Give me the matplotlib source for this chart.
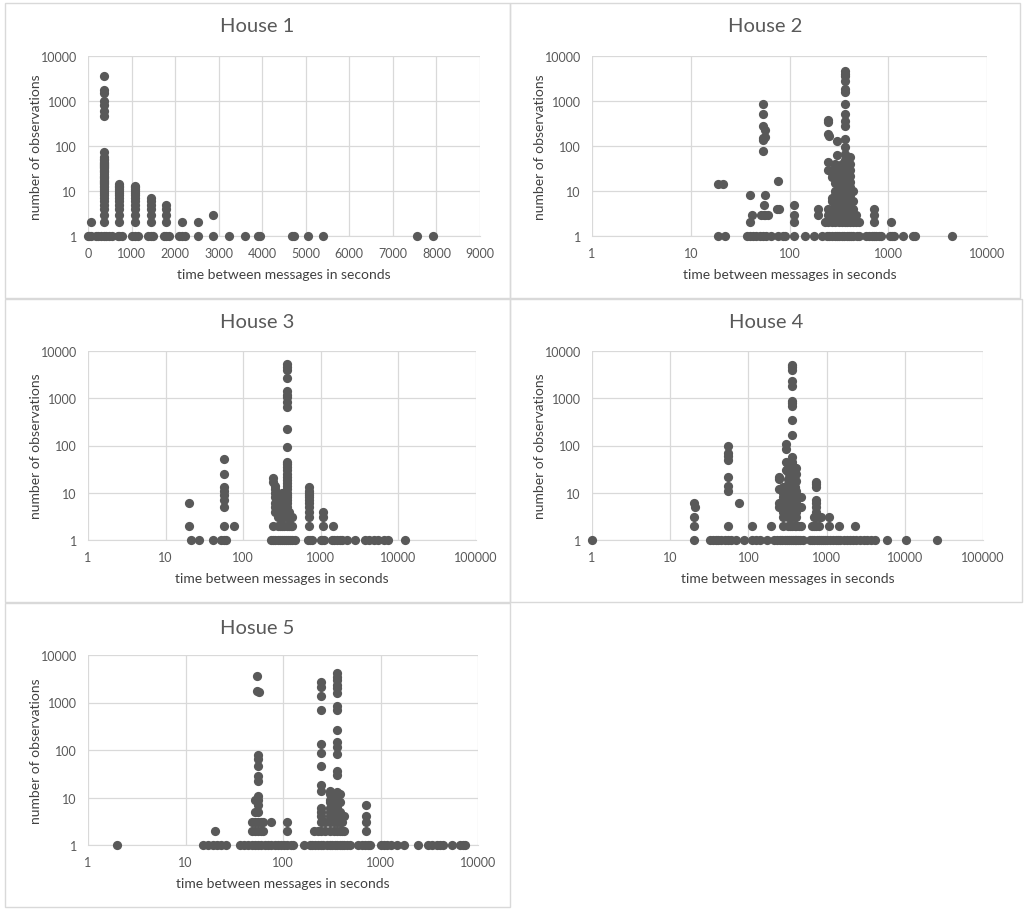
import numpy as np
import matplotlib
matplotlib.use("Agg")
import matplotlib.pyplot as plt
from matplotlib.patches import Rectangle

plt.rcParams['font.family'] = ['Lato', 'DejaVu Sans']

# ---- data: time between messages (s) and number of observations ----
h1_t = [0, 30, 60, 180, 240, 300, 360, 420, 480, 540, 690, 720, 780, 1020, 1080, 1140,
        1380, 1440, 1500, 1740, 1800, 1860, 2100, 2160, 2220, 2520, 2880, 3240, 3600,
        3900, 3960, 4680, 4740, 5040, 5400, 7560, 7920,
        60,
        360, 360, 360, 360, 360, 360, 360, 360, 360, 360, 360, 360, 360, 360, 360, 360,
        360, 360, 360, 360, 360, 360, 360, 360, 360, 360, 360, 360, 360, 360, 360, 360,
        360, 360, 360, 360, 360, 360, 360, 360, 360, 360,
        720, 720, 720, 720, 720, 720, 720, 720, 720, 720, 720, 720, 720,
        1080, 1080, 1080, 1080, 1080, 1080, 1080, 1080, 1080, 1080, 1080, 1080,
        1440, 1440, 1440, 1440, 1440, 1440,
        1800, 1800, 1800, 1800,
        2160, 2520, 2880]
h1_n = [1] * 37 + [2] + \
       [2, 3, 4, 5, 6, 7, 8, 9, 10, 11, 12, 13, 14, 15, 16, 17, 18, 19, 20, 22, 24, 26,
        28, 30, 32, 34, 36, 38, 40, 42, 45, 48, 52, 56, 75, 470, 600, 800, 1000, 1500,
        1800, 3650] + \
       [2, 3, 4, 5, 6, 7, 8, 9, 10, 11, 12, 13, 14] + \
       [2, 3, 4, 5, 6, 7, 8, 9, 10, 11, 12, 13] + \
       [2, 3, 4, 5, 6, 7] + \
       [2, 3, 4, 5] + \
       [2, 2, 3]

h2_t = [19, 22, 37, 40, 43, 46, 50, 54, 58, 65, 76, 85, 90, 110, 143, 176, 211, 240, 254,
        270, 290, 300, 320, 340, 360, 380, 400, 420, 440, 480, 510, 600, 640, 680, 720,
        760, 800, 850, 1040, 1080, 1150, 1400, 1800, 1850, 4400,
        19, 21, 40, 40, 42,
        54, 54, 54, 54, 54, 54, 57, 57, 57, 57, 52, 55, 55, 60,
        74, 76, 78, 110, 110, 110, 195, 195, 228,
        247, 247, 247, 247, 247, 247, 247, 247, 250, 300, 300,
        364, 364, 364, 364, 364, 364, 364, 364, 364, 364, 364, 364,
        270, 270, 270, 270, 270, 270, 270, 270,
        290, 290, 290, 290, 290, 290, 290, 290, 290, 290, 290,
        320, 320, 320, 320, 320, 320, 320, 320, 320, 320, 320,
        340, 340, 340, 340, 340, 340, 340, 340, 340, 340, 340, 340,
        364, 364, 364, 364, 364, 364, 364, 364, 364, 364, 364, 364, 364, 364, 364, 364, 364,
        385, 385, 385, 385, 385, 385, 385, 385, 385, 385, 385, 385,
        410, 410, 410, 410, 410, 410, 410, 410, 410, 410, 410, 410,
        440, 440, 440, 440, 440, 475, 475, 510,
        720, 720, 720, 1070]
h2_n = [1] * 45 + \
       [14, 14, 2, 8, 3,
        850, 520, 280, 150, 135, 78, 230, 160, 8, 3, 3, 5, 3, 3,
        4, 17, 4, 2, 3, 5, 3, 4, 2,
        380, 350, 185, 45, 30, 4, 3, 2, 170, 126, 63,
        4700, 4000, 3650, 2800, 1850, 1600, 850, 515, 365, 280, 143, 93,
        2, 3, 4, 6, 7, 20, 25, 30,
        2, 3, 4, 5, 6, 8, 10, 15, 20, 30, 40,
        2, 3, 4, 5, 7, 9, 12, 16, 22, 28, 35,
        2, 3, 4, 5, 6, 8, 10, 13, 18, 24, 32, 40,
        2, 3, 4, 5, 6, 7, 8, 10, 12, 14, 17, 20, 25, 30, 38, 50, 66,
        2, 3, 4, 5, 6, 8, 10, 13, 17, 22, 28, 35,
        2, 3, 4, 5, 6, 8, 12, 16, 22, 30, 40, 57,
        2, 3, 4, 6, 10, 3, 2, 2,
        2, 3, 4, 2]

h3_t = [21, 27, 41, 52, 56, 60, 230, 245, 260, 280, 300, 320, 340, 360, 380, 400, 430,
        460, 690, 720, 760, 1000, 1050, 1100, 1380, 1500, 1600, 1750, 1900, 2200, 2800,
        3700, 4200, 4800, 5500, 6500, 7400, 12000,
        20, 20,
        56, 56, 56, 56, 56, 56, 56, 56,
        76, 243, 243, 255, 255, 255, 255, 255, 255, 255, 243,
        280, 280, 280, 280, 280,
        300, 300, 300, 300, 300, 300, 300,
        320, 320, 320, 320, 320, 320, 320,
        340, 340, 340, 340, 340,
        362, 362, 362, 362, 362, 362, 362, 362, 362, 362, 362, 362, 362, 362, 362, 362,
        362, 362, 362, 362, 362, 362, 362, 362, 362, 362, 362, 362, 362, 362,
        390, 390, 390, 410, 410, 420, 420,
        700, 700, 700, 700, 700, 700, 700, 700, 700, 700, 700,
        1075, 1075, 1075, 1450]
h3_n = [1] * 38 + \
       [6, 2,
        51, 25, 13, 11, 9, 7, 5, 2,
        2, 21, 17, 14, 12, 10, 8, 6, 5, 4, 2,
        2, 3, 4, 5, 6,
        2, 3, 4, 5, 6, 7, 8,
        2, 3, 4, 5, 6, 8, 10,
        2, 3, 4, 5, 6,
        5200, 4600, 4000, 2700, 1400, 1200, 1050, 820, 640, 220, 95, 45, 40, 35, 30, 25,
        22, 19, 16, 14, 12, 10, 9, 8, 7, 6, 5, 4, 3, 2,
        2, 3, 4, 2, 3, 2, 3,
        2, 3, 4, 5, 6, 7, 8, 9, 10, 11, 13,
        2, 3, 4, 2]

h4_t = [1, 20, 32, 35, 38, 41, 45, 50, 55, 60, 70, 88, 110, 125, 140, 175, 215, 230, 250,
        270, 290, 310, 330, 350, 370, 390, 410, 430, 460, 500, 610, 650, 700, 750, 800,
        850, 900, 960, 1020, 1100, 1200, 1300, 1400, 1500, 1650, 1800, 2000, 2200, 2400,
        2700, 3000, 3300, 3700, 4200, 6000, 10300, 26000,
        20, 20, 20, 21,
        55, 55, 55, 55, 55, 55, 55, 55,
        76, 112, 197,
        247, 247, 247, 247, 247,
        300, 300, 300, 300, 300,
        366, 366, 366, 366, 366, 366, 366, 366, 366, 366, 366, 366, 366, 366, 366, 366,
        366, 366, 366, 366, 366, 366, 366, 366, 366, 366, 366, 366, 366,
        280, 280, 280, 280, 280, 280, 280, 280,
        320, 320, 320, 320, 320, 320, 320, 320, 320, 320, 320, 320,
        340, 340, 340, 340, 340, 340, 340, 340, 340, 340, 340,
        390, 390, 390, 390, 390, 390, 390, 390, 390, 390, 390,
        412, 412, 412, 412, 412, 412, 412, 412, 412,
        440, 440, 440, 475, 475, 475,
        660, 700, 700, 725, 725, 725, 725, 725, 725, 725, 725, 725,
        800, 800, 860, 1070, 1070, 1440, 2300]
h4_n = [1] * 57 + \
       [6, 3, 2, 5,
        98, 68, 60, 49, 22, 14, 11, 2,
        6, 2, 2,
        22, 20, 12, 6, 5,
        106, 84, 45, 30, 12,
        5000, 4500, 4000, 2300, 1800, 870, 780, 680, 350, 165, 56, 45, 38, 32, 27, 23,
        20, 17, 14, 12, 10, 9, 8, 7, 6, 5, 4, 3, 2,
        2, 3, 4, 5, 6, 8, 10, 13,
        2, 3, 4, 5, 6, 7, 9, 11, 15, 20, 28, 40,
        2, 3, 4, 5, 6, 8, 10, 14, 20, 30, 42,
        2, 3, 4, 5, 6, 8, 10, 13, 18, 25, 33,
        2, 3, 4, 6, 8, 11, 18, 25, 33,
        2, 5, 8, 2, 5, 8,
        2, 2, 3, 17, 15, 13, 7, 6, 5, 4, 3, 2,
        2, 3, 3, 3, 2, 2, 2]

h5_t = [2, 15, 17, 19, 21, 23, 26, 36, 40, 44, 48, 52, 56, 60, 65, 70, 76, 82, 88, 95, 102,
        110, 120, 128, 166, 190, 200, 215, 230, 245, 260, 280, 300, 320, 340, 360, 380,
        400, 420, 450, 490, 590, 640, 700, 740, 780, 1000, 1080, 1170, 1270, 1460, 1740,
        2450, 3100, 3400, 3800, 4100, 4400, 5400, 6600, 7100, 7400,
        20, 54, 54, 57,
        56, 56, 56, 56, 56, 56, 56, 56, 56, 56, 56,
        52, 52, 52, 52, 48, 48, 60, 60, 62, 62,
        76, 110, 110,
        245, 245, 245, 245, 245, 245, 245, 245, 245, 245, 245, 245, 245, 245,
        300, 300, 300, 300, 300, 300, 300, 300, 300,
        270, 270, 210, 230, 330, 330, 330, 330, 330,
        360, 360, 360, 360, 360, 360, 360, 360, 360, 360, 360, 360, 360, 360, 360, 360,
        360, 360, 360, 360, 360, 360, 360,
        380, 380, 380, 380, 380, 400, 400, 420, 420,
        710, 710, 710, 710]
h5_n = [1] * 62 + \
       [2, 3650, 1750, 1700,
        80, 65, 47, 28, 22, 11, 9, 7, 5, 3, 2,
        9, 5, 3, 2, 3, 2, 3, 2, 3, 2,
        3, 3, 2,
        2740, 2100, 1380, 710, 135, 88, 47, 18, 14, 6, 5, 4, 3, 2,
        14, 12, 9, 8, 6, 5, 4, 3, 2,
        2, 3, 2, 2, 2, 3, 5, 6, 10,
        4100, 3500, 3000, 2300, 2000, 1560, 850, 700, 270, 150, 116, 84, 37, 30, 13, 10,
        8, 7, 6, 5, 4, 3, 2,
        2, 3, 5, 8, 12, 2, 3, 4, 2,
        7, 4, 3, 2]

titles = ["House 1", "House 2", "House 3", "House 4", "Hosue 5"]
y_ticks = [1, 10, 100, 1000, 10000]

W, H = 1024, 912
fig = plt.figure(figsize=(W / 100, H / 100), dpi=100)

def fpos(l, t, r, b):
    return [l / W, 1 - b / H, (r - l) / W, (b - t) / H]

# panel frames (px): left, top, right, bottom
panels = [(5, 4, 510, 299), (510, 4, 1020, 299), (5, 300, 510, 603),
          (510, 300, 1022, 603), (5, 604, 510, 908)]
# plot areas (px)
areas = [(88, 57, 480, 237), (592, 57, 987, 237), (88, 352, 476, 541),
         (592, 352, 983, 541), (88, 656, 478, 846)]
title_y = [27, 27, 323, 323, 628]
series = [(h1_t, h1_n), (h2_t, h2_n), (h3_t, h3_n), (h4_t, h4_n), (h5_t, h5_n)]
x_max = [9000, 10000, 100000, 100000, 10000]

for i in range(5):
    pl, pt, pr, pb = panels[i]
    fig.patches.append(Rectangle((pl / W, 1 - pb / H), (pr - pl) / W, (pb - pt) / H,
                                 transform=fig.transFigure, fill=False,
                                 edgecolor='#d9d9d9', lw=1))
    fig.text((pl + pr) / 2 / W, 1 - title_y[i] / H, titles[i], ha='center', va='center',
             fontsize=14.5, color='#595959')

    l, t, r, b = areas[i]
    ax = fig.add_axes(fpos(l, t, r, b))
    x, n = series[i]
    ax.scatter(x, n, s=44, c='#595959', linewidths=0, zorder=3, clip_on=False)
    ax.set_yscale('log')
    ax.set_ylim(1, 10000)
    ax.set_yticks(y_ticks)
    ax.set_yticklabels([str(v) for v in y_ticks])
    if i == 0:
        ax.set_xlim(0, 9000)
        ax.set_xticks(range(0, 9001, 1000))
        ax.set_xticklabels([str(v) for v in range(0, 9001, 1000)])
    else:
        ax.set_xscale('log')
        ax.set_xlim(1, x_max[i])
        xt = [10 ** k for k in range(int(np.log10(x_max[i])) + 1)]
        ax.set_xticks(xt)
        ax.set_xticklabels([str(v) for v in xt])
    ax.minorticks_off()
    ax.grid(True, color='#d9d9d9', lw=0.9)
    ax.set_axisbelow(True)
    for s in ['top', 'right', 'left']:
        ax.spines[s].set_visible(False)
    ax.spines['bottom'].set_color('#d9d9d9')
    ax.tick_params(length=0, labelsize=9, labelcolor='#595959', pad=8)
    ax.set_xlabel('time between messages in seconds', fontsize=10, color='#404040')
    ax.set_ylabel('number of observations', fontsize=10, color='#404040')
    ax.xaxis.set_label_coords(0.5, -32 / (b - t))
    ax.yaxis.set_label_coords(-46 / (r - l), 0.5)

plt.savefig('out.png', dpi=100)
